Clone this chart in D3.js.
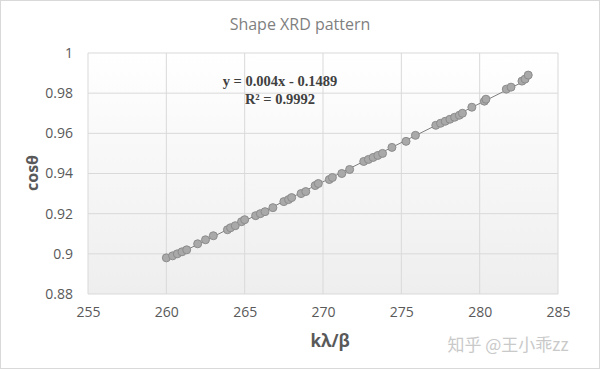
<!DOCTYPE html>
<html lang="en">
<head>
<meta charset="UTF-8">
<title>Shape XRD pattern</title>
<style>
    body { margin: 0; background: #fff; }
    svg { display: block; font-family: "Open Sans", "Noto Sans", sans-serif; }
    .tick text { fill: #595959; font-size: 14px; }
    .grid line { stroke: #d9d9d9; stroke-width: 1px; }
    .dot { fill: #a9a9a9; stroke: #8c8c8c; stroke-width: 1px; }
</style>
</head>
<body>
<div id="chart"></div>
<script src="https://cdn.jsdelivr.net/npm/d3@7"></script>
<script>
// Data
const kLambdaBeta = [260.0, 260.4, 260.7, 261.0, 261.3, 262.0, 262.5, 263.0, 263.9, 264.1,
    264.4, 264.8, 265.0, 265.7, 266.0, 266.3, 266.8, 267.5, 267.8, 268.0,
    268.6, 268.9, 269.5, 269.7, 270.4, 270.6, 271.2, 271.7, 272.6, 272.9,
    273.2, 273.5, 273.8, 274.4, 275.3, 275.9, 277.2, 277.5, 277.8, 278.1,
    278.4, 278.7, 278.9, 279.5, 280.3, 280.4, 281.7, 282.0, 282.7, 282.9, 283.1];
const cosTheta = [0.898, 0.899, 0.900, 0.901, 0.902, 0.905, 0.907, 0.909, 0.912, 0.913,
    0.914, 0.916, 0.917, 0.919, 0.920, 0.921, 0.923, 0.926, 0.927, 0.928,
    0.930, 0.931, 0.934, 0.935, 0.937, 0.938, 0.940, 0.942, 0.946, 0.947,
    0.948, 0.949, 0.950, 0.953, 0.956, 0.959, 0.964, 0.965, 0.966, 0.967,
    0.968, 0.969, 0.970, 0.973, 0.976, 0.977, 0.982, 0.983, 0.986, 0.987, 0.989];
const xTicks = [255, 260, 265, 270, 275, 280, 285];
const yTicks = [0.88, 0.9, 0.92, 0.94, 0.96, 0.98, 1];

const W = 600, H = 369;
const margin = { top: 53, right: 42, bottom: 75, left: 88 };
const width = W - margin.left - margin.right,
      height = H - margin.top - margin.bottom;

const svg = d3.select("#chart").append("svg")
    .attr("width", W)
    .attr("height", H);

// outer border
svg.append("rect")
    .attr("x", 0.5).attr("y", 0.5)
    .attr("width", W - 1).attr("height", H - 1)
    .attr("fill", "#fff")
    .attr("stroke", "#d9d9d9");

const defs = svg.append("defs");
const grad = defs.append("linearGradient")
    .attr("id", "plotbg")
    .attr("x1", 0).attr("y1", 0).attr("x2", 0).attr("y2", 1);
grad.append("stop").attr("offset", "0%").attr("stop-color", "#ffffff");
grad.append("stop").attr("offset", "100%").attr("stop-color", "#eeeeee");

const g = svg.append("g")
    .attr("transform", `translate(${margin.left},${margin.top})`);

const x = d3.scaleLinear().domain([255, 285]).range([0, width]);
const y = d3.scaleLinear().domain([0.88, 1]).range([height, 0]);

g.append("rect")
    .attr("width", width).attr("height", height)
    .attr("fill", "url(#plotbg)");

// gridlines
g.append("g").attr("class", "grid")
    .selectAll("line").data(yTicks).join("line")
    .attr("x1", 0).attr("x2", width)
    .attr("y1", d => y(d)).attr("y2", d => y(d));
g.append("g").attr("class", "grid")
    .selectAll("line").data(xTicks).join("line")
    .attr("y1", 0).attr("y2", height)
    .attr("x1", d => x(d)).attr("x2", d => x(d));

// axes (labels only)
const xAxis = g.append("g")
    .attr("transform", `translate(0,${height})`)
    .call(d3.axisBottom(x).tickValues(xTicks).tickSize(0).tickPadding(13).tickFormat(d3.format("d")));
xAxis.select(".domain").remove();

const yAxis = g.append("g")
    .call(d3.axisLeft(y).tickValues(yTicks).tickSize(0).tickPadding(15).tickFormat(d => String(+d.toFixed(2))));
yAxis.select(".domain").remove();
g.selectAll(".tick text").style("font-family", "'Open Sans', sans-serif");

// least-squares trendline from the points
const n = kLambdaBeta.length;
const mx = d3.mean(kLambdaBeta), my = d3.mean(cosTheta);
let sxy = 0, sxx = 0;
for (let i = 0; i < n; i++) {
    sxy += (kLambdaBeta[i] - mx) * (cosTheta[i] - my);
    sxx += (kLambdaBeta[i] - mx) ** 2;
}
const slope = sxy / sxx, icpt = my - slope * mx;
const xr = d3.extent(kLambdaBeta);
g.append("line")
    .attr("x1", x(xr[0])).attr("y1", y(slope * xr[0] + icpt))
    .attr("x2", x(xr[1])).attr("y2", y(slope * xr[1] + icpt))
    .attr("stroke", "#7f7f7f")
    .attr("stroke-width", 1);

// points
g.selectAll(".dot")
    .data(kLambdaBeta.map((v, i) => [v, cosTheta[i]]))
    .join("circle")
    .attr("class", "dot")
    .attr("cx", d => x(d[0]))
    .attr("cy", d => y(d[1]))
    .attr("r", 4);

// title
svg.append("text")
    .attr("x", 300).attr("y", 30)
    .attr("text-anchor", "middle")
    .attr("fill", "#7f7f7f")
    .style("font-size", "16px")
    .text("Shape XRD pattern");

// axis titles
svg.append("text")
    .attr("transform", "translate(38,173) rotate(-90)")
    .attr("text-anchor", "middle")
    .attr("fill", "#595959")
    .style("font-size", "16px")
    .style("font-weight", "bold")
    .text("cosθ");

svg.append("text")
    .attr("x", 330).attr("y", 347)
    .attr("text-anchor", "middle")
    .attr("fill", "#595959")
    .style("font-size", "17px")
    .style("font-weight", "bold")
    .text("kλ/β");

// equation label
const eq = svg.append("g")
    .style("font-family", "'Liberation Serif', 'DejaVu Serif', serif")
    .style("font-weight", "bold")
    .style("font-size", "14.5px")
    .attr("fill", "#404040");
eq.append("text").attr("x", 280).attr("y", 86).attr("text-anchor", "middle")
    .text("y = 0.004x - 0.1489");
eq.append("text").attr("x", 280).attr("y", 104).attr("text-anchor", "middle")
    .text("R² = 0.9992");

// watermark
svg.append("text")
    .attr("x", 508).attr("y", 351)
    .attr("text-anchor", "middle")
    .attr("fill", "#c9c9c9")
    .style("font-family", "'Noto Sans CJK SC', sans-serif")
    .style("font-size", "17px")
    .text("知乎 @王小乖zz");
</script>
</body>
</html>
